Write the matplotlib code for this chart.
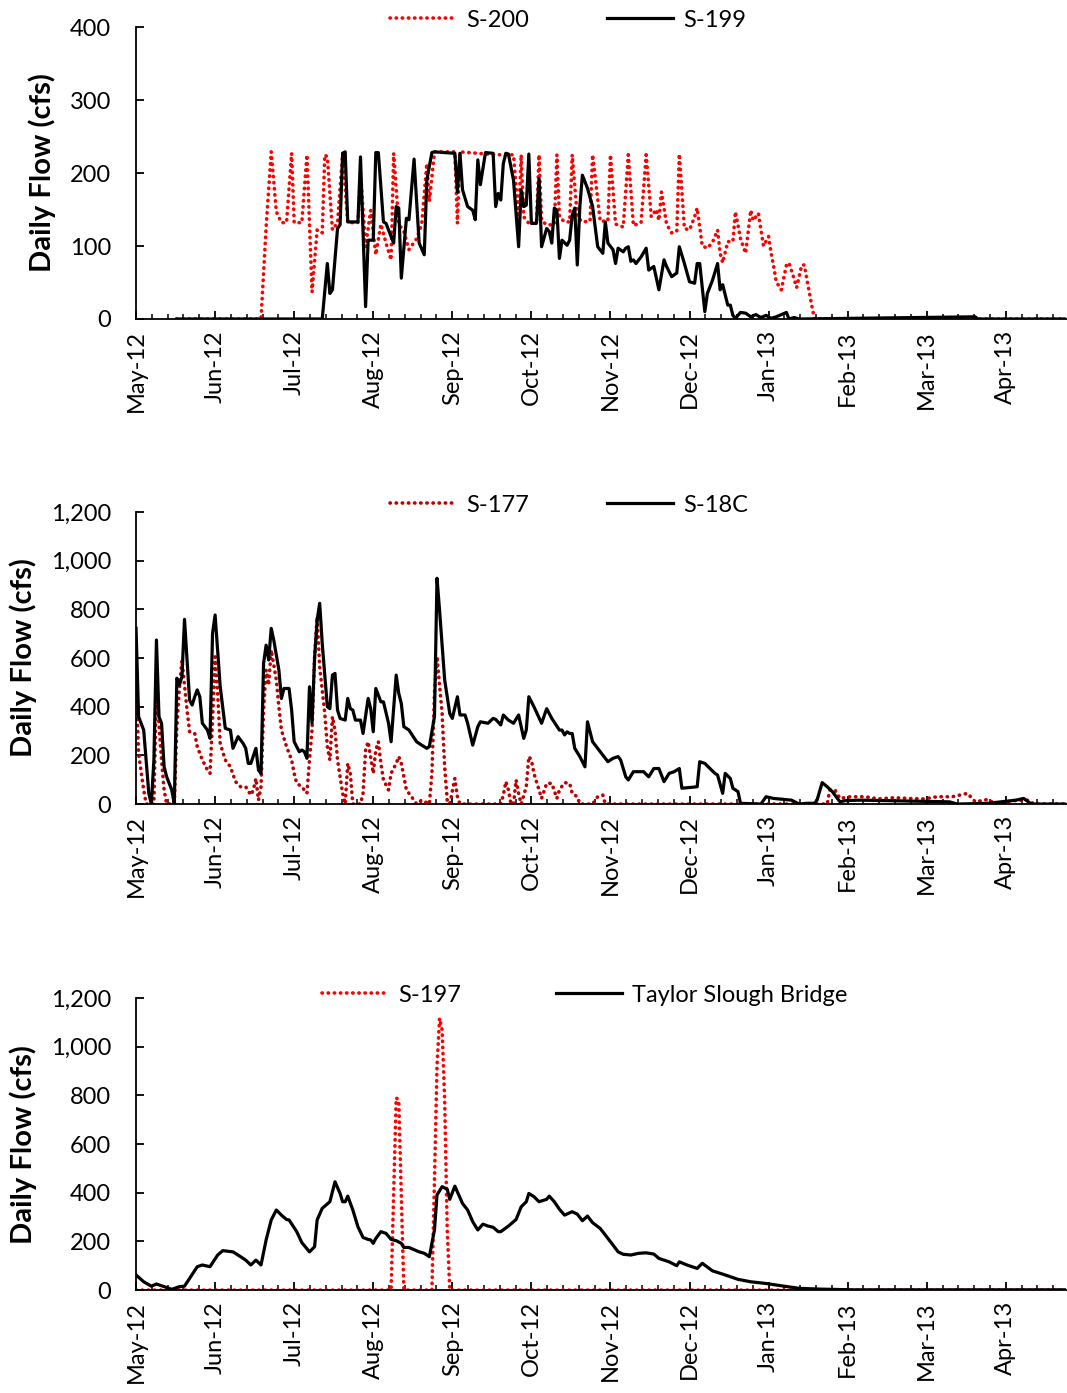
import matplotlib
matplotlib.use("Agg")
from matplotlib import pyplot as plt
from matplotlib.ticker import FuncFormatter, FixedLocator
import numpy as np

plt.rcParams['font.family'] = ['Lato', 'DejaVu Sans']

# x values are day numbers counted from 1 May 2012 (one category per day, 365 days)
month_labels = ['May-12', 'Jun-12', 'Jul-12', 'Aug-12', 'Sep-12', 'Oct-12',
                'Nov-12', 'Dec-12', 'Jan-13', 'Feb-13', 'Mar-13', 'Apr-13']

# ---- panel 1 : S-200 / S-199
s200_day = [16, 49, 51, 53, 55, 57, 59, 61, 62, 65, 67, 69, 71, 73, 74, 75, 77, 79, 81, 83,
            87, 88, 90, 92, 94, 96, 98, 100, 101, 103, 105, 107, 110, 112, 114, 115, 117, 125,
            126, 127, 141, 145, 148, 150, 151, 152, 154, 157, 158, 159, 161, 164, 165, 166,
            168, 170, 171, 173, 175, 178, 179, 182, 185, 186, 188, 191, 193, 195, 198, 200,
            202, 204, 205, 206, 208, 210, 212, 213, 215, 217, 219, 220, 222, 224, 226, 228,
            229, 230, 232, 234, 235, 237, 239, 241, 242, 244, 246, 248, 249, 250, 251, 253,
            255, 256, 258, 259, 261, 262, 263, 264, 265, 266, 364]
s200_flow = [0, 0, 126, 229, 147, 132, 132, 227, 132, 132, 225, 37, 122, 118, 225, 222, 122, 132, 227, 132,
             132, 200, 99, 149, 88, 130, 104, 81, 227, 130, 120, 95, 110, 130, 213, 161, 229, 229,
             131, 229, 225, 225, 225, 135, 225, 140, 131, 131, 225, 135, 129, 129, 225, 140,
             133, 133, 225, 140, 133, 134, 225, 134, 134, 225, 130, 126, 225, 128, 132, 225,
             140, 150, 135, 174, 130, 118, 120, 226, 124, 122, 140, 152, 100, 97, 105, 122,
             90, 77, 106, 106, 147, 110, 90, 149, 135, 145, 100, 113, 90, 72, 51, 40,
             74, 77, 55, 43, 74, 74, 55, 36, 17, 0, 0]

s199_day = [16, 73, 75, 76, 77, 79, 80, 81, 82, 83, 87, 88, 90, 91, 93, 94, 95, 97, 98, 101,
            102, 103, 104, 106, 107, 109, 111, 113, 114, 116, 117, 125, 126, 127, 128, 130,
            132, 133, 134, 135, 137, 140, 141, 142, 143, 144, 145, 146, 148, 150, 151, 152,
            153, 154, 155, 157, 158, 159, 161, 162, 163, 164, 165, 166, 167, 169, 170, 171,
            172, 173, 174, 175, 177, 179, 181, 183, 184, 185, 187, 188, 189, 191, 192, 193,
            194, 195, 196, 198, 200, 201, 203, 205, 207, 208, 210, 212, 213, 215, 217, 219,
            220, 221, 223, 224, 225, 226, 228, 229, 230, 232, 233, 234, 235, 237, 239, 241,
            243, 245, 247, 249, 251, 255, 256, 258, 260, 329, 330, 364]
s199_flow = [0, 0, 76, 35, 40, 124, 129, 227, 229, 133, 133, 222, 17, 108, 108, 228, 228, 133, 131, 104,
             154, 152, 56, 138, 136, 219, 104, 88, 190, 228, 229, 227, 174, 227, 177, 154,
             149, 136, 218, 184, 228, 227, 154, 172, 163, 213, 227, 226, 190, 99, 177, 154,
             156, 226, 131, 131, 193, 99, 124, 120, 104, 152, 149, 83, 108, 101, 108, 142,
             152, 74, 154, 197, 179, 154, 99, 90, 133, 104, 95, 76, 97, 92, 97, 99,
             79, 81, 76, 85, 97, 67, 72, 40, 81, 72, 58, 63, 99, 76, 51, 49,
             76, 76, 10, 35, 44, 53, 76, 40, 47, 19, 19, 5, 1, 9, 8, 3,
             6, 2, 5, 1, 3, 9, 0, 2, 0, 3, 0, 0]

# ---- panel 2 : S-177 / S-18C
s177_day = [0, 1, 3, 4, 7, 8, 9, 10, 11, 12, 15, 16, 17, 18, 20, 21, 23, 24, 26, 28, 29, 30,
            31, 32, 33, 35, 37, 39, 41, 43, 45, 46, 47, 48, 49, 50, 51, 52, 53, 55, 56, 57,
            59, 61, 62, 63, 65, 67, 68, 69, 70, 71, 72, 74, 75, 76, 77, 78, 79, 81, 82, 83,
            84, 85, 88, 89, 90, 91, 93, 94, 95, 96, 97, 99, 100, 102, 103, 104, 106, 109,
            110, 112, 115, 116, 117, 118, 120, 121, 122, 123, 125, 126, 127, 143, 144, 145,
            146, 147, 148, 149, 150, 151, 153, 154, 155, 156, 158, 159, 161, 163, 165, 166,
            168, 170, 171, 173, 174, 179, 181, 183, 184, 271, 272, 274, 276, 280, 286, 291,
            297, 303, 309, 314, 320, 326, 329, 334, 337, 344, 350, 352, 364]
s177_flow = [500, 208, 58, 0, 0, 496, 325, 181, 58, 0, 0, 318, 475, 592, 386, 297, 290, 236, 181, 140, 126, 345,
             605, 455, 249, 181, 153, 92, 71, 71, 37, 58, 105, 16, 71, 386, 551, 489, 633, 510, 400, 304,
             236, 181, 126, 85, 71, 44, 181, 304, 605, 770, 564, 372, 236, 181, 359, 304, 181, 44, 0, 167,
             126, 0, 0, 44, 222, 256, 126, 222, 256, 167, 99, 58, 126, 167, 195, 167, 58, 16,
             0, 16, 0, 126, 455, 605, 372, 153, 16, 0, 105, 30, 0, 0, 37, 92,
             58, 0, 0, 99, 44, 0, 71, 195, 181, 126, 58, 23, 85, 85, 23, 58,
             88, 85, 44, 30, 0, 0, 30, 37, 0, 0, 58, 58, 23, 30, 30, 21,
             26, 23, 21, 30, 30, 44, 9, 19, 0, 14, 16, 0, 0]

s18c_day = [0, 1, 2, 3, 5, 6, 7, 8, 9, 10, 11, 12, 14, 15, 16, 17, 18, 19, 20, 21, 22, 23, 24,
            25, 26, 28, 29, 30, 31, 33, 35, 37, 38, 40, 42, 43, 44, 45, 47, 48, 49, 50, 51,
            52, 53, 54, 56, 57, 58, 60, 61, 62, 64, 65, 66, 67, 68, 69, 70, 71, 72, 73, 75,
            76, 77, 78, 79, 80, 82, 83, 84, 85, 86, 88, 89, 91, 92, 93, 94, 96, 97, 99, 100,
            102, 103, 104, 105, 107, 110, 112, 114, 115, 117, 118, 119, 121, 123, 124, 126,
            127, 129, 130, 132, 134, 135, 138, 140, 141, 143, 144, 146, 148, 150, 152, 153,
            154, 156, 159, 161, 163, 166, 167, 168, 169, 170, 171, 172, 174, 176, 177, 179,
            182, 183, 185, 187, 189, 190, 192, 193, 195, 197, 199, 201, 203, 205, 207, 209,
            211, 213, 214, 220, 221, 223, 225, 227, 228, 230, 231, 233, 234, 236, 237, 245,
            247, 250, 257, 260, 263, 266, 267, 269, 271, 273, 276, 278, 284, 304, 319, 322,
            334, 345, 348, 351, 364]
s18c_flow = [722, 359, 332, 304, 44, 0, 181, 674, 359, 332, 153, 112, 58, 0, 517, 489, 523, 759, 592, 427, 407, 441, 469,
             441, 332, 304, 270, 702, 777, 482, 311, 304, 229, 277, 249, 229, 167, 167, 229, 140, 126, 578, 653,
             592, 722, 674, 551, 434, 475, 475, 386, 256, 215, 222, 215, 188, 482, 332, 600, 756, 825, 660, 400,
             392, 530, 537, 386, 352, 345, 434, 392, 386, 345, 345, 290, 434, 392, 297, 475, 420, 420, 332, 256,
             530, 455, 413, 318, 304, 256, 242, 229, 236, 359, 928, 797, 510, 372, 352, 441,
             366, 366, 332, 242, 318, 338, 332, 352, 348, 325, 366, 345, 332, 366, 270, 304,
             441, 400, 332, 392, 352, 304, 304, 284, 297, 290, 290, 229, 195, 153, 338, 256,
             215, 201, 174, 188, 195, 181, 112, 99, 133, 133, 133, 112, 146, 146, 92, 126,
             133, 146, 65, 71, 174, 167, 146, 126, 119, 44, 126, 105, 65, 51, 3, 0,
             30, 23, 16, 0, 3, 3, 16, 88, 71, 51, 9, 14, 16, 12, 9, 0,
             3, 16, 23, 0, 0]

# ---- panel 3 : S-197 / Taylor Slough Bridge
s197_day = [0, 100, 102, 103, 105, 116, 117, 118, 119, 120, 121, 122, 123, 364]
s197_flow = [0, 0, 790, 780, 0, 0, 450, 920, 1117, 1070, 780, 250, 0, 0]

tsb_day = [0, 3, 6, 8, 11, 14, 17, 19, 21, 24, 26, 29, 32, 34, 38, 41, 43, 45, 47, 49, 51, 53,
           55, 57, 59, 60, 63, 65, 68, 70, 71, 73, 76, 78, 80, 81, 82, 83, 85, 87, 89, 91, 92,
           93, 94, 96, 98, 100, 102, 104, 105, 107, 111, 113, 115, 117, 118, 120, 122, 123,
           125, 128, 130, 132, 134, 136, 138, 140, 142, 143, 146, 149, 151, 153, 154, 156,
           158, 161, 162, 164, 166, 168, 171, 173, 175, 177, 179, 182, 184, 187, 189, 191,
           194, 197, 200, 203, 205, 209, 212, 213, 216, 220, 222, 226, 231, 236, 241, 247,
           254, 260, 268, 281, 364]
tsb_flow = [62, 34, 16, 25, 14, 3, 14, 16, 48, 96, 103, 96, 144, 162, 157, 137, 123, 103, 123, 103, 206, 288,
            329, 308, 290, 288, 240, 195, 157, 178, 288, 336, 363, 445, 397, 363, 363, 386, 329, 260, 216, 208, 206,
            192, 212, 240, 233, 208, 203, 192, 175, 175, 157, 151, 137, 247, 391, 425, 414, 373,
            427, 356, 329, 281, 247, 271, 263, 258, 240, 240, 263, 290, 342, 363, 397, 384,
            363, 373, 386, 363, 332, 308, 322, 312, 285, 304, 277, 253, 226, 185, 157, 147,
            144, 151, 153, 148, 130, 116, 100, 116, 103, 89, 110, 79, 62, 44, 34, 27,
            16, 7, 4, 1, 1]

panels = [
    (0.7710, 400, 100, (s200_day, s200_flow, 'S-200', '#FF0000'),
     (s199_day, s199_flow, 'S-199'), 0.273, 1.024, 3.3),
    (0.4228, 1200, 200, (s177_day, s177_flow, 'S-177', '#C00000'),
     (s18c_day, s18c_flow, 'S-18C'), 0.273, 1.024, 3.3),
    (0.0739, 1200, 200, (s197_day, s197_flow, 'S-197', '#FF0000'),
     (tsb_day, tsb_flow, 'Taylor Slough Bridge'), 0.200, 1.010, 4.0),
]

fig = plt.figure(figsize=(10.67, 13.93), dpi=100)

for bottom, ymax, ystep, red, black, lx, ly, colsp in panels:
    ax = fig.add_axes([0.1275, bottom, 0.8725, 0.2096])
    # round dots like Excel's "round dot" dash type
    ax.plot(red[0], red[1], color=red[3], linewidth=2.6, linestyle=(0, (0.1, 1.6)),
            dash_capstyle='round', label=red[2])
    ax.plot(black[0], black[1], color='black', linewidth=2.3, label=black[2])

    ax.set_xlim(0, 365)
    ax.set_ylim(0, ymax)
    ax.set_yticks(np.arange(0, ymax + 1, ystep))
    ax.yaxis.set_major_formatter(FuncFormatter(lambda v, p: '{:,.0f}'.format(v)))
    ax.xaxis.set_major_locator(FixedLocator([31 * k for k in range(12)]))
    ax.xaxis.set_minor_locator(FixedLocator(np.arange(0, 365, 6.2)))
    ax.set_xticklabels(month_labels, rotation=90)

    for side in ['top', 'right']:
        ax.spines[side].set_visible(False)
    for side in ['left', 'bottom']:
        ax.spines[side].set_linewidth(1.3)
    ax.tick_params(axis='both', which='major', direction='in', length=6, width=1.3, labelsize=17)
    ax.tick_params(axis='x', which='minor', direction='in', length=3.5, width=1.1)
    ax.tick_params(axis='y', pad=18)
    ax.tick_params(axis='x', pad=8)

    ax.set_ylabel('Daily Flow (cfs)', fontsize=21, fontweight='bold', labelpad=10)
    ax.legend(loc='center left', bbox_to_anchor=(lx, ly), ncol=2, frameon=False, fontsize=17,
              handlelength=2.8, handletextpad=0.42, columnspacing=colsp, borderpad=0,
              borderaxespad=0)

fig.savefig('out.png', dpi=100)
